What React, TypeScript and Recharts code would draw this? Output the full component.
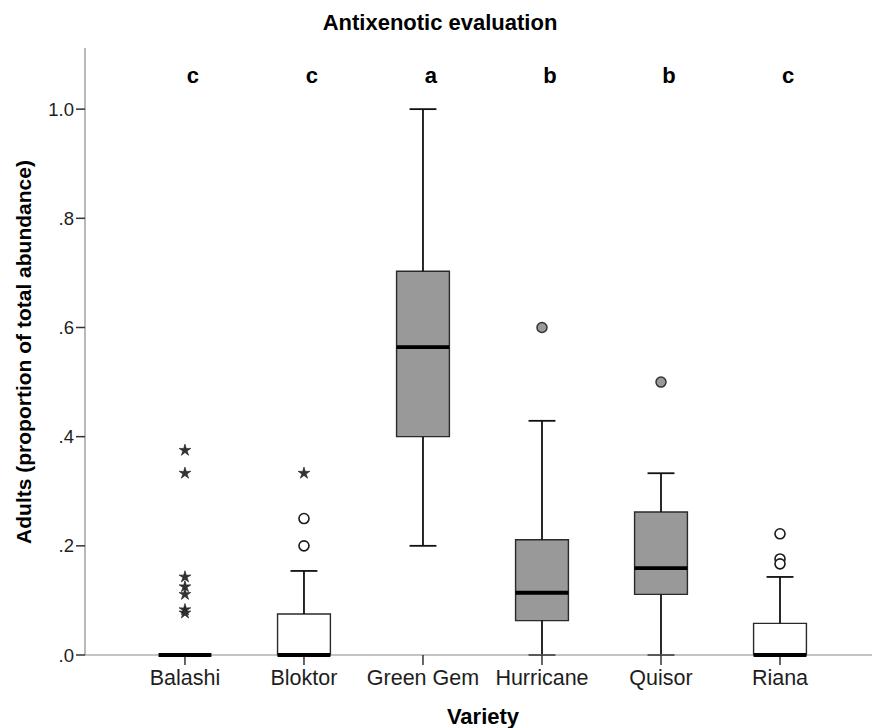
import React from 'react';
import { ComposedChart, XAxis, YAxis, Scatter, ReferenceArea, ReferenceLine } from 'recharts';

// ---- data ----
const categories = ['Balashi', 'Bloktor', 'Green Gem', 'Hurricane', 'Quisor', 'Riana'];
const whiskerLow = [0, 0, 0.2, 0, 0, 0];
const q1 = [0, 0, 0.4, 0.063, 0.111, 0];
const median = [0, 0, 0.564, 0.114, 0.159, 0];
const q3 = [0, 0.075, 0.703, 0.211, 0.262, 0.058];
const whiskerHigh = [0, 0.154, 1.0, 0.429, 0.333, 0.143];
const groupLetters = ['c', 'c', 'a', 'b', 'b', 'c'];
const shadedGroups = ['Green Gem', 'Hurricane', 'Quisor'];

const balashiExtremes = [0.375, 0.333, 0.143, 0.125, 0.111, 0.083, 0.077];
const bloktorExtremes = [0.333];
const bloktorOutliers = [0.25, 0.2];
const hurricaneOutliers = [0.6];
const quisorOutliers = [0.5];
const rianaOutliers = [0.222, 0.176, 0.167];

const yTicks = [0, 0.2, 0.4, 0.6, 0.8, 1.0];

// ---- layout / style constants ----
const X_DOMAIN: [number, number] = [0.16, 6.773];
const Y_DOMAIN: [number, number] = [0, 1.112];
const BOX_HALF = 0.222;
const CAP_HALF = 0.113;
const LETTER_Y = 1.047;
const LETTER_DX = 8;
const FONT = '"Liberation Sans", Arial, Helvetica, sans-serif';

const pos = (name: string) => categories.indexOf(name) + 1;
const toPoints = (name: string, vals: number[]) => vals.map((v) => ({ x: pos(name), y: v }));

const extremePoints = [...toPoints('Balashi', balashiExtremes), ...toPoints('Bloktor', bloktorExtremes)];
const openOutlierPoints = [...toPoints('Bloktor', bloktorOutliers), ...toPoints('Riana', rianaOutliers)];
const filledOutlierPoints = [...toPoints('Hurricane', hurricaneOutliers), ...toPoints('Quisor', quisorOutliers)];
const letterPoints = groupLetters.map((l, i) => ({ x: i + 1, y: LETTER_Y, letter: l }));

const StarShape = (props: any) => {
  const { cx, cy } = props;
  if (cx == null || cy == null) return null;
  const ro = 6.2;
  const ri = 2.2;
  const pts: string[] = [];
  for (let k = 0; k < 10; k++) {
    const r = k % 2 === 0 ? ro : ri;
    const a = (-90 + k * 36) * (Math.PI / 180);
    pts.push(`${cx + r * Math.cos(a)},${cy + r * Math.sin(a)}`);
  }
  return <polygon points={pts.join(' ')} fill="#333" stroke="#1a1a1a" strokeWidth={0.6} />;
};

const OpenCircle = (props: any) => {
  const { cx, cy } = props;
  if (cx == null || cy == null) return null;
  return <circle cx={cx} cy={cy} r={5} fill="#fff" stroke="#1a1a1a" strokeWidth={1.6} />;
};

const FilledCircle = (props: any) => {
  const { cx, cy } = props;
  if (cx == null || cy == null) return null;
  return <circle cx={cx} cy={cy} r={5} fill="#999999" stroke="#333" strokeWidth={1.5} />;
};

const LetterShape = (props: any) => {
  const { cx, cy, payload } = props;
  if (cx == null || cy == null) return null;
  return (
    <text x={cx + LETTER_DX} y={cy} textAnchor="middle" fontFamily={FONT} fontWeight="bold" fontSize={22} fill="#000">
      {payload.letter}
    </text>
  );
};

const yFmt = (v: number) => (Math.abs(v - 1) < 1e-9 ? '1.0' : v.toFixed(1).replace(/^0/, ''));

export default function App() {
  return (
    <div style={{ position: 'absolute', left: 0, top: 0, width: 873, height: 728, background: '#fff', fontFamily: FONT }}>
      <ComposedChart width={873} height={728} margin={{ top: 48, right: 1, left: 0, bottom: 0 }}>
        <XAxis
          type="number"
          dataKey="x"
          domain={X_DOMAIN}
          allowDataOverflow
          ticks={[1, 2, 3, 4, 5, 6]}
          interval={0}
          tickFormatter={(v: number) => categories[Math.round(v) - 1] ?? ''}
          height={73}
          tickSize={10}
          tickMargin={5}
          tick={{ fontSize: 21.5, fill: '#1e1e1e', fontFamily: FONT }}
          axisLine={{ stroke: '#8a8a8a', strokeWidth: 1.2 }}
          tickLine={{ stroke: '#333', strokeWidth: 1.5 }}
        />
        <YAxis
          type="number"
          dataKey="y"
          domain={Y_DOMAIN}
          allowDataOverflow
          ticks={yTicks}
          interval={0}
          tickFormatter={yFmt}
          width={85}
          tickSize={9}
          tickMargin={2}
          tick={{ fontSize: 18.5, fill: '#1e1e1e', fontFamily: FONT }}
          axisLine={{ stroke: '#8a8a8a', strokeWidth: 1.2 }}
          tickLine={{ stroke: '#333', strokeWidth: 1.5 }}
        />
        {categories.map((c, i) => (
          <ReferenceArea
            key={'box' + c}
            x1={i + 1 - BOX_HALF}
            x2={i + 1 + BOX_HALF}
            y1={q1[i]}
            y2={q3[i]}
            fill={shadedGroups.includes(c) ? '#999999' : '#ffffff'}
            fillOpacity={1}
            stroke="#2a2a2a"
            strokeWidth={1.4}
            ifOverflow="visible"
          />
        ))}
        {categories.map((c, i) =>
          whiskerHigh[i] > q3[i] ? (
            <ReferenceLine key={'wh' + c} segment={[{ x: i + 1, y: q3[i] }, { x: i + 1, y: whiskerHigh[i] }]} stroke="#111" strokeWidth={1.8} ifOverflow="visible" />
          ) : null
        )}
        {categories.map((c, i) =>
          whiskerLow[i] < q1[i] ? (
            <ReferenceLine key={'wl' + c} segment={[{ x: i + 1, y: whiskerLow[i] }, { x: i + 1, y: q1[i] }]} stroke="#111" strokeWidth={1.8} ifOverflow="visible" />
          ) : null
        )}
        {categories.map((c, i) => (
          <ReferenceLine key={'ch' + c} segment={[{ x: i + 1 - CAP_HALF, y: whiskerHigh[i] }, { x: i + 1 + CAP_HALF, y: whiskerHigh[i] }]} stroke="#111" strokeWidth={1.8} ifOverflow="visible" />
        ))}
        {categories.map((c, i) => (
          <ReferenceLine key={'cl' + c} segment={[{ x: i + 1 - CAP_HALF, y: whiskerLow[i] }, { x: i + 1 + CAP_HALF, y: whiskerLow[i] }]} stroke="#111" strokeWidth={1.8} ifOverflow="visible" />
        ))}
        {categories.map((c, i) => (
          <ReferenceLine
            key={'md' + c}
            segment={[{ x: i + 1 - BOX_HALF, y: median[i] }, { x: i + 1 + BOX_HALF, y: median[i] }]}
            stroke="#000"
            strokeWidth={3.8}
            ifOverflow="visible"
            {...({ zIndex: 2000 } as any)}
          />
        ))}
        <Scatter data={extremePoints} dataKey="y" shape={StarShape} isAnimationActive={false} />
        <Scatter data={openOutlierPoints} dataKey="y" shape={OpenCircle} isAnimationActive={false} />
        <Scatter data={filledOutlierPoints} dataKey="y" shape={FilledCircle} isAnimationActive={false} />
        <Scatter data={letterPoints} dataKey="y" shape={LetterShape} isAnimationActive={false} />
      </ComposedChart>
      <svg width={873} height={728} style={{ position: 'absolute', left: 0, top: 0, pointerEvents: 'none' }}>
        <text x={440} y={30} textAnchor="middle" fontFamily={FONT} fontWeight="bold" fontSize={22} fill="#000">
          Antixenotic evaluation
        </text>
        <text x={31} y={352} transform="rotate(-90 31 352)" textAnchor="middle" fontFamily={FONT} fontWeight="bold" fontSize={21} fill="#000">
          Adults (proportion of total abundance)
        </text>
        <text x={483} y={724} textAnchor="middle" fontFamily={FONT} fontWeight="bold" fontSize={22} fill="#000">
          Variety
        </text>
      </svg>
    </div>
  );
}
